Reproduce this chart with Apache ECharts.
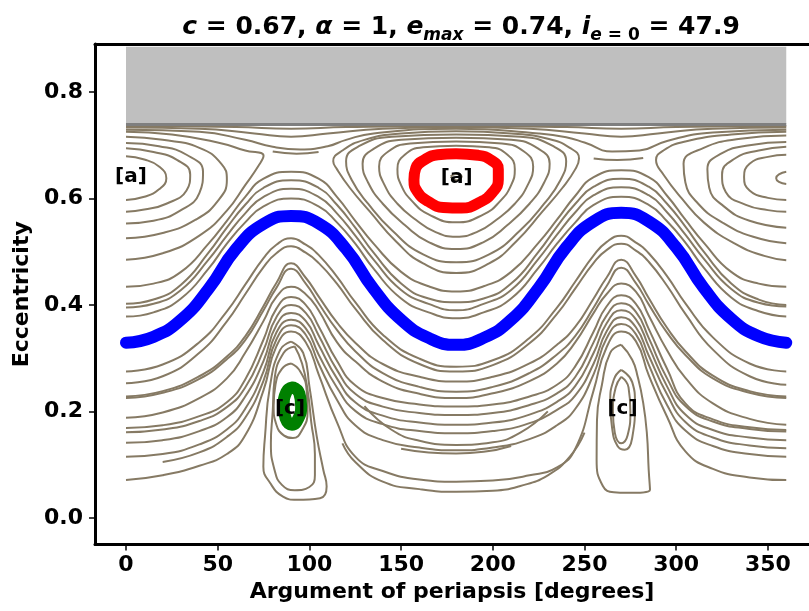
<!DOCTYPE html>
<html>
<head>
<meta charset="utf-8">
<script src="https://cdn.jsdelivr.net/npm/echarts@6/dist/echarts.min.js"></script>
<style>
html, body { margin: 0; padding: 0; background: #fff; }
#chart { width: 809px; height: 611px; }
</style>
</head>
<body>
<div id="chart"></div>
<script>
// 横轴刻度
const xTicks = [0, 50, 100, 150, 200, 250, 300, 350]
const yTicks = [0, 0.2, 0.4, 0.6, 0.8]

// 蓝线下方的环流曲线, 共用一组 omega
const omegaGrid = [0, 20, 40, 55, 65, 75, 82, 90, 98, 105, 115, 125, 140, 160, 180, 200, 220, 235, 245, 255, 262, 270, 278, 285, 295, 305, 320, 340, 360]
const lowerCurves = [
    [.275, .288, .33, .388, .438, .488, .513, .525, .513, .494, .453, .405, .344, .299, .284, .296, .338, .395, .444, .493, .518, .53, .517, .497, .454, .403, .339, .29, .275],
    [.253, .266, .31, .369, .42, .471, .497, .51, .498, .479, .44, .393, .334, .289, .275, .287, .328, .383, .431, .479, .503, .515, .502, .481, .436, .383, .316, .266, .25],
    [.228, .238, .266, .303, .341, .398, .441, .478, .451, .416, .367, .329, .289, .265, .256, .265, .29, .325, .359, .412, .451, .485, .454, .413, .357, .313, .267, .238, .228],
    [.225, .235, .261, .298, .334, .39, .432, .468, .44, .403, .353, .313, .272, .246, .237, .246, .272, .307, .342, .395, .435, .47, .441, .401, .348, .306, .262, .235, .225],
    [.188, .198, .225, .262, .31, .37, .415, .434, .42, .39, .33, .294, .256, .233, .225, .234, .257, .29, .33, .385, .42, .44, .425, .38, .315, .263, .215, .186, .175],
    [.169, .174, .191, .217, .26, .335, .393, .415, .4, .36, .295, .249, .225, .213, .209, .213, .228, .25, .285, .35, .397, .418, .402, .355, .28, .215, .185, .17, .165],
    [.161, .166, .182, .208, .245, .315, .377, .4, .385, .343, .278, .233, .209, .197, .193, .197, .212, .234, .265, .33, .38, .403, .387, .338, .262, .21, .181, .167, .162],
    [.141, .146, .163, .189, .228, .295, .362, .385, .37, .325, .262, .217, .192, .179, .175, .179, .194, .218, .248, .31, .365, .39, .373, .322, .247, .194, .165, .151, .146],
    [.115, .12, .138, .166, .205, .275, .348, .372, .356, .307, .245, .201, .176, .163, .159, .163, .178, .203, .23, .29, .35, .377, .358, .305, .232, .18, .151, .136, .131],
    [null, .105, .123, .152, .188, .258, .335, .362, .344, .29, .222, .174, .146, .132, .127, .132, .148, .174, .205, .27, .337, .364, .345, .288, .212, .164, .135, .12, .115],
    [.071, .08, .098, .12, .155, .24, .322, .35, .33, .27, .18, .115, .088, .072, .068, .07, .08, .095, .13, .24, .32, .35, .332, .268, .19, .125, .092, .076, .071]
]

// 蓝线与分界线之间的环流曲线
const middleCurves = [
    [[0, .378], [15, .386], [30, .412], [45, .468], [55, .515], [65, .555], [75, .585], [90, .6], [105, .585], [115, .555], [125, .515], [135, .468], [150, .412], [165, .386], [180, .375], [195, .386], [210, .412], [225, .47], [235, .515], [245, .555], [255, .588], [270, .603], [285, .588], [295, .557], [305, .517], [315, .47], [330, .414], [345, .388], [360, .378]],
    [[0, .395], [15, .402], [30, .428], [45, .485], [55, .53], [65, .572], [75, .603], [90, .618], [105, .603], [115, .572], [125, .53], [135, .485], [150, .428], [165, .402], [180, .39], [195, .402], [210, .428], [225, .487], [235, .532], [245, .574], [255, .606], [270, .621], [285, .606], [295, .574], [305, .532], [315, .487], [330, .43], [345, .404], [360, .397]],
    [[0, .402], [15, .41], [30, .438], [45, .498], [55, .545], [65, .588], [75, .62], [90, .634], [105, .62], [115, .588], [125, .545], [135, .498], [150, .44], [165, .412], [180, .405], [195, .412], [210, .44], [225, .5], [235, .547], [245, .59], [255, .622], [270, .637], [285, .622], [295, .59], [305, .547], [315, .5], [330, .44], [345, .41], [360, .4]],
    [[0, .434], [15, .44], [30, .462], [45, .515], [55, .558], [65, .603], [75, .637], [90, .65], [105, .637], [115, .603], [125, .558], [135, .515], [150, .462], [165, .435], [180, .425], [195, .435], [210, .462], [225, .517], [235, .56], [245, .605], [255, .64], [270, .653], [285, .64], [295, .605], [305, .56], [315, .517], [330, .462], [345, .44], [360, .434]]
]

// 顶部的环流曲线
const topCurves = [
    [[0, .736], [60, .734], [90, .731], [120, .734], [180, .736], [240, .734], [270, .731], [300, .734], [360, .736]],
    [[0, .733], [40, .731], [70, .722], [90, .716], [110, .722], [140, .731], [180, .734], [220, .731], [250, .722], [270, .716], [290, .722], [320, .731], [360, .733]],
    [[0, .729], [40, .725], [65, .71], [80, .697], [95, .692], [110, .698], [120, .71], [135, .722], [180, .731], [225, .722], [240, .715], [250, .705], [265, .688], [280, .69], [295, .708], [320, .724], [360, .729]],
    [[80, .688], [93, .684], [105, .687]],
    [[255, .675], [268, .672], [282, .676]]
]

// omega = 180 附近的 [a] 岛
const islandA180 = [
    [[180, .699], [162, .696], [152, .682], [148, .655], [150, .625], [156, .595], [165, .57], [180, .555], [195, .57], [204, .595], [210, .625], [212, .655], [208, .682], [198, .696], [180, .699]],
    [[180, .707], [155, .703], [143, .688], [138, .66], [141, .625], [148, .59], [158, .56], [168, .538], [180, .528], [192, .538], [202, .56], [212, .59], [219, .625], [222, .66], [217, .688], [205, .703], [180, .707]],
    [[180, .714], [150, .71], [135, .693], [129, .665], [132, .63], [140, .59], [152, .55], [165, .518], [180, .505], [195, .518], [208, .55], [220, .59], [228, .63], [231, .665], [225, .693], [210, .71], [180, .714]],
    [[180, .72], [145, .716], [127, .698], [120, .67], [123, .635], [132, .59], [145, .54], [162, .495], [180, .48], [198, .495], [215, .54], [228, .59], [237, .635], [240, .67], [233, .698], [215, .716], [180, .72]],
    [[180, .726], [150, .722], [130, .71], [118, .69], [113, .67], [115, .655], [122, .62], [133, .575], [147, .52], [162, .478], [180, .46], [198, .478], [213, .52], [227, .575], [238, .62], [245, .655], [247, .675], [242, .695], [230, .712], [210, .722], [180, .726]],
    [[177, .641], [180, .646], [183, .641], [180, .634], [177, .641]]
]

// omega = 0 与 360 处的 [a] 岛 (半边)
const islandA0 = [
    [[0, .679], [10, .673], [18, .66], [22, .638], [18, .617], [10, .603], [0, .597]],
    [[0, .694], [15, .687], [28, .672], [35, .645], [33, .615], [22, .59], [10, .579], [0, .575]],
    [[0, .704], [18, .698], [33, .682], [42, .65], [40, .61], [30, .578], [15, .558], [0, .553]],
    [[0, .716], [20, .71], [40, .695], [52, .665], [55, .635], [50, .595], [38, .56], [20, .535], [0, .525]],
    [[0, .725], [25, .72], [50, .705], [65, .69], [75, .68], [72, .66], [65, .625], [55, .577], [40, .53], [20, .497], [0, .485]]
]
const islandA360 = [
    [[360, .65], [356, .645], [354.5, .638], [356, .631], [360, .627]],
    [[360, .682], [350, .678], [340, .665], [337, .64], [340, .615], [350, .601], [360, .597]],
    [[360, .697], [345, .69], [332, .675], [325, .645], [327, .612], [338, .588], [350, .578], [360, .575]],
    [[360, .706], [340, .7], [325, .685], [317, .655], [318, .62], [326, .585], [340, .558], [360, .545]],
    [[360, .718], [335, .712], [315, .695], [304, .665], [305, .63], [312, .59], [325, .555], [342, .528], [360, .516]],
    [[360, .725], [330, .72], [305, .707], [293, .69], [289, .672], [293, .645], [303, .6], [315, .555], [332, .515], [348, .492], [360, .484]]
]

// [c] 岛
const islandC90 = [
    [[90, .331], [84, .315], [78.5, .247], [75.8, .153], [74.9, .096], [78.5, .066], [85.6, .04], [93, .034], [105.8, .037], [109.4, .059], [107.6, .09], [104, .153], [100, .247], [96.6, .31], [90, .331]],
    [[92, .322], [86, .31], [81, .26], [80, .2], [79, .14], [81, .09], [85, .062], [92, .052], [100, .058], [103, .08], [103, .12], [101, .18], [99, .24], [96, .29], [92, .322]],
    [[90, .29], [85, .28], [81.5, .25], [80.5, .21], [82, .175], [86, .155], [91, .15], [96, .165], [99, .2], [98.5, .24], [95, .275], [90, .29]]
]
const islandC270 = [
    [[270, .325], [264, .31], [259.5, .25], [256.8, .184], [256.6, .109], [260, .06], [266, .048], [273, .047], [285.7, .053], [285, .09], [284, .159], [282, .216], [279, .265], [276, .297], [270, .325]],
    [[270, .278], [266, .26], [264, .216], [265, .17], [268, .135], [272, .128], [276, .15], [277.5, .216], [276, .255], [270, .278]],
    [[270, .265], [267, .245], [265.5, .2], [266.5, .16], [270, .14], [273.5, .155], [275, .2], [274, .245], [270, .265]]
]

// 零散的短轨迹
const partialCurves = [
    [[118, .14], [125, .105], [140, .068], [160, .054], [180, .049], [200, .051], [215, .06], [230, .08], [242, .115], [250, .16]],
    [[130, .21], [145, .165], [160, .145], [180, .137], [200, .142], [215, .16], [230, .2]],
    [[150, .13], [165, .123], [180, .121], [195, .124], [210, .135]]
]

// 高亮的三条轨迹
const blueOrbit = [[0, .329], [15, .34], [30, .372], [45, .43], [60, .505], [75, .552], [90, .567], [105, .553], [120, .505], [135, .43], [150, .372], [165, .338], [180, .325], [195, .338], [210, .372], [225, .432], [240, .508], [255, .557], [270, .573], [285, .557], [300, .508], [315, .432], [330, .374], [345, .341], [360, .329]]
const redOrbit = [[180, .684], [192, .681], [199, .672], [203, .655], [203, .635], [200, .612], [193, .593], [183, .582], [173, .583], [165, .594], [159, .612], [157, .635], [158, .657], [163, .673], [170, .682], [180, .684]]
const greenOrbit = [[91, .245], [87.5, .237], [86, .21], [87, .187], [90.5, .175], [94, .187], [95.5, .21], [94.5, .234], [91, .245]]

const labelMarks = [[2.7, .64, '[a]'], [180.3, .638, '[a]'], [89.4, .205, '[c]'], [270.7, .205, '[c]']]

const emax = 0.74
const grayTop = 0.885

const BROWN = '#867a64'
const FONT = 'DejaVu Sans'

const chart = echarts.init(document.getElementById('chart'))

const series = []
function brown(points) {
    series.push({
        type: 'line',
        data: points,
        showSymbol: false,
        smooth: 0.5,
        silent: true,
        z: 2,
        lineStyle: { color: BROWN, width: 2 }
    })
}
lowerCurves.forEach(ys => {
    const pts = []
    ys.forEach((y, i) => { if (y !== null) pts.push([omegaGrid[i], y]) })
    brown(pts)
})
middleCurves.forEach(brown)
topCurves.forEach(brown)
islandA180.forEach(brown)
islandA0.forEach(brown)
islandA360.forEach(brown)
islandC90.forEach(brown)
islandC270.forEach(brown)
partialCurves.forEach(brown)

// 灰色禁区
series.push({
    type: 'line',
    data: [[0, emax - 0.001], [360, emax - 0.001]],
    showSymbol: false,
    silent: true,
    z: 3,
    lineStyle: { color: '#7f7f7f', width: 3 },
    markArea: {
        silent: true,
        itemStyle: { color: '#bfbfbf' },
        data: [[{ coord: [0, emax] }, { coord: [360, grayTop] }]]
    }
})

const thick = [[blueOrbit, '#0000ff', 12], [redOrbit, '#ff0000', 11], [greenOrbit, '#008000', 12]]
thick.forEach(([pts, color, w]) => {
    series.push({
        type: 'line',
        data: pts,
        showSymbol: false,
        smooth: 0.5,
        silent: true,
        z: 4,
        lineStyle: { color: color, width: w, cap: 'round', join: 'round' }
    })
})

series.push({
    type: 'scatter',
    data: labelMarks.map(d => ({ value: [d[0], d[1]], name: d[2] })),
    symbolSize: 0,
    silent: true,
    z: 6,
    itemStyle: { opacity: 1 },
    label: {
        show: true,
        position: 'inside',
        formatter: p => p.name,
        color: '#000',
        opacity: 1,
        fontFamily: FONT,
        fontWeight: 'bold',
        fontSize: 20
    }
})

// 坐标框: 左, 下, 上三条边 (右边在画布外)
const frameLine = { show: true, onZero: false, lineStyle: { color: '#000', width: 3 } }

const option = {
    animation: false,
    backgroundColor: '#fff',
    title: {
        text: '{v|c} = 0.67, {v|α} = 1, {v|e}{s|max} = 0.74, {v|i}{s|e}{n| = 0} = 47.9',
        left: 456,
        top: 2,
        textAlign: 'center',
        textStyle: {
            fontFamily: FONT,
            fontWeight: 'bold',
            fontSize: 25,
            lineHeight: 40,
            color: '#000',
            rich: {
                v: { fontFamily: FONT, fontWeight: 'bold', fontStyle: 'italic', fontSize: 25, lineHeight: 40, color: '#000' },
                s: { fontFamily: FONT, fontWeight: 'bold', fontStyle: 'italic', fontSize: 17, lineHeight: 22, padding: [18, 0, 0, 0], color: '#000' },
                n: { fontFamily: FONT, fontWeight: 'bold', fontSize: 17, lineHeight: 22, padding: [18, 0, 0, 0], color: '#000' }
            }
        }
    },
    grid: {
        left: 95,
        right: 0,
        top: 44,
        bottom: 66.5
    },
    xAxis: [{
        type: 'value',
        min: -16.9,
        max: 372.4,
        name: 'Argument of periapsis [degrees]',
        nameLocation: 'middle',
        nameGap: 34,
        nameTextStyle: { fontFamily: FONT, fontWeight: 'bold', fontSize: 22, color: '#000' },
        axisLine: frameLine,
        splitLine: { show: false },
        axisTick: { show: true, length: 6, customValues: xTicks, lineStyle: { color: '#000', width: 1.5 } },
        axisLabel: { customValues: xTicks, margin: 10, fontFamily: FONT, fontWeight: 'bold', fontSize: 22, color: '#000' }
    }, {
        type: 'value',
        position: 'top',
        min: -16.9,
        max: 372.4,
        axisLine: frameLine,
        splitLine: { show: false },
        axisTick: { show: false },
        axisLabel: { show: false }
    }],
    yAxis: {
        type: 'value',
        min: -0.05,
        max: 0.89,
        name: 'Eccentricity',
        nameLocation: 'middle',
        nameGap: 58,
        nameTextStyle: { fontFamily: FONT, fontWeight: 'bold', fontSize: 22, color: '#000' },
        axisLine: frameLine,
        splitLine: { show: false },
        axisTick: { show: true, length: 6, customValues: yTicks, lineStyle: { color: '#000', width: 1.5 } },
        axisLabel: { customValues: yTicks, margin: 12, fontFamily: FONT, fontWeight: 'bold', fontSize: 22, color: '#000', formatter: v => v.toFixed(1) }
    },
    series: series
}
chart.setOption(option)
window.addEventListener('resize', () => {
    chart.resize()
})
</script>
</body>
</html>
